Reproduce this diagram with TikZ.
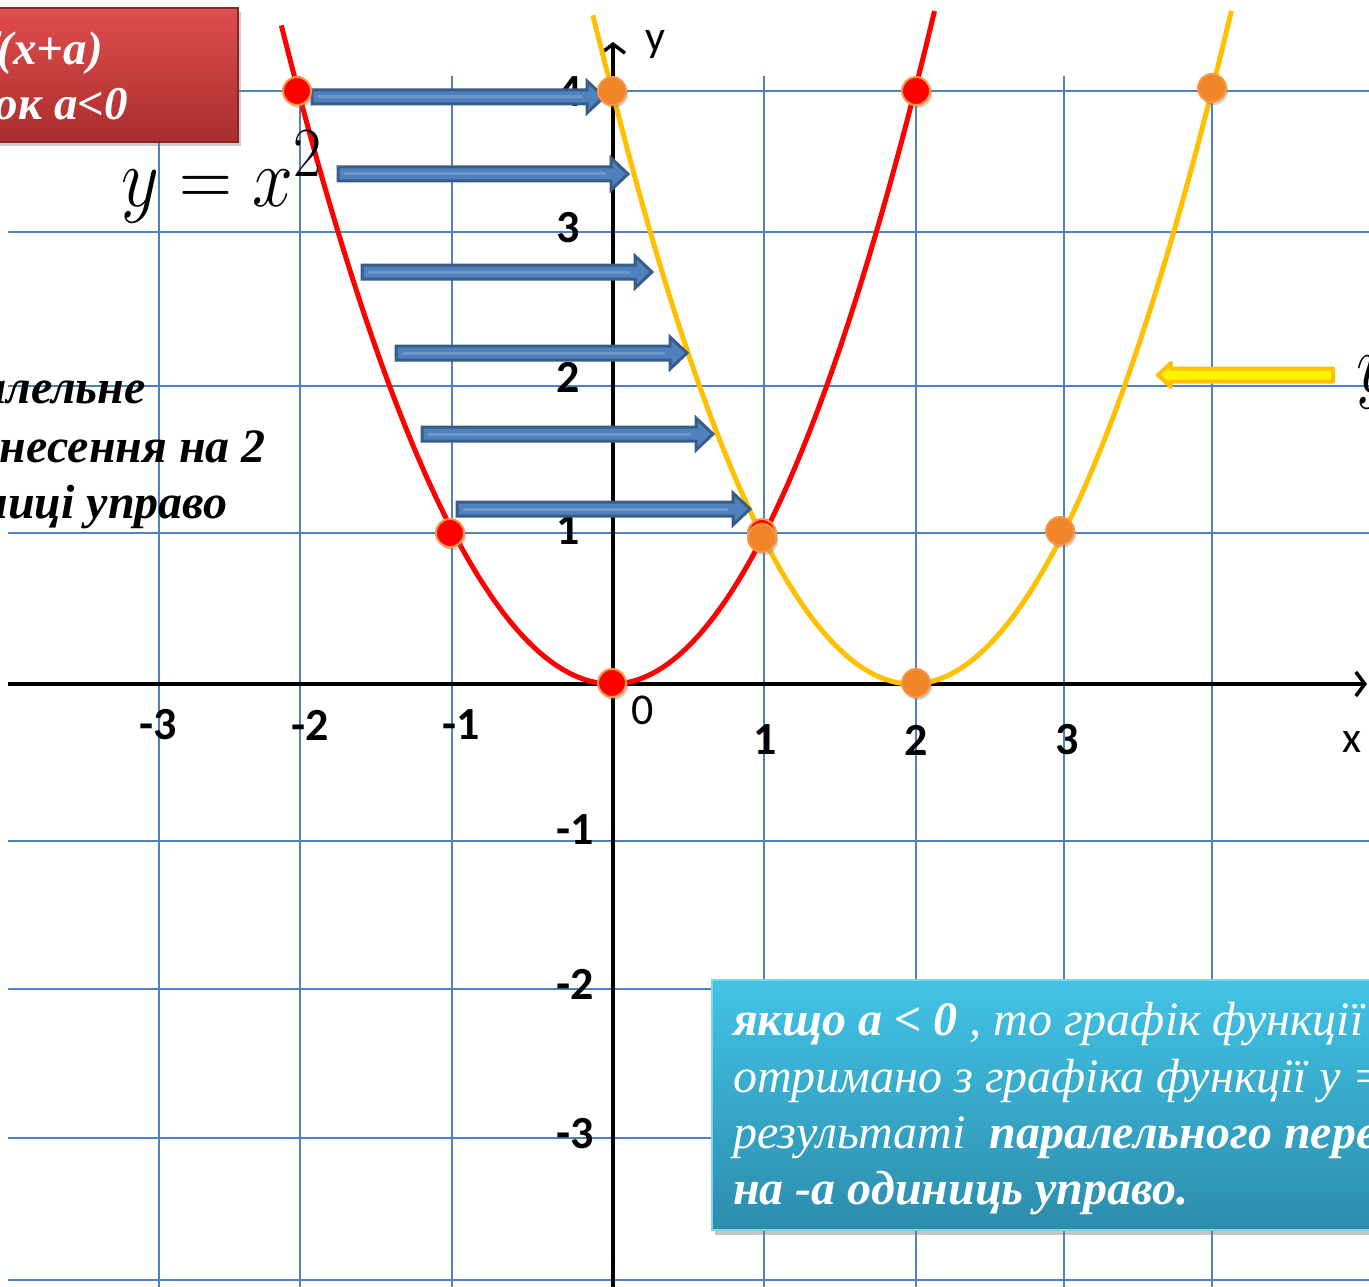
\documentclass[tikz,border=0pt]{standalone}
\usepackage{fontspec}
\setmainfont{Liberation Serif}
\newfontfamily\calibri{Carlito}
\usetikzlibrary{arrows.meta,shadows}
\definecolor{gridblue}{RGB}{79,129,189}
\definecolor{arrfill}{RGB}{79,129,189}
\definecolor{arrdraw}{RGB}{56,93,138}
\definecolor{parred}{RGB}{255,0,0}
\definecolor{paryel}{RGB}{255,192,0}
\definecolor{dotorange}{RGB}{240,134,40}
\definecolor{dotedge}{RGB}{247,150,70}
\definecolor{boxtop}{RGB}{66,196,230}
\definecolor{boxbot}{RGB}{44,140,172}
\definecolor{redtop}{RGB}{222,78,76}
\definecolor{redbot}{RGB}{170,46,46}
\tikzset{
  gridline/.style={draw=gridblue,line width=2},
  axisline/.style={draw=black,line width=4,-{Straight Barb[length=9pt,width=24pt,line width=3.5pt]}},
  ticklab/.style={font=\calibri\bfseries\fontsize{46}{46}\selectfont,inner sep=0},
  axlab/.style={font=\calibri\fontsize{44}{44}\selectfont,inner sep=0},
  redcurve/.style={draw=parred,line width=5},
  yelcurve/.style={draw=paryel,line width=5},
  reddot/.style={circle,fill=parred,draw=dotedge,line width=2,minimum size=28,inner sep=0,
    drop shadow={shadow xshift=2pt,shadow yshift=-3pt,opacity=0.35}},
  orgdot/.style={circle,fill=dotorange,draw=dotedge,line width=2,minimum size=28,inner sep=0,
    drop shadow={shadow xshift=2pt,shadow yshift=-3pt,opacity=0.35}},
  blockarrow/.style={fill=arrfill,draw=arrdraw,line width=3,line join=miter},
  yelarrow/.style={fill=yellow,draw=paryel,line width=4,line join=round},
  bigtext/.style={font=\bfseries\itshape\fontsize{48}{56}\selectfont,inner sep=0},
  boxtext/.style={font=\itshape\fontsize{48}{56}\selectfont,text=white,inner sep=0},
  redtext/.style={font=\bfseries\itshape\fontsize{47}{56}\selectfont,text=white,inner sep=0},
  formula/.style={anchor=base west,inner sep=0,xscale=2.95,yscale=3.4},
}
\newcommand{\rblockarrow}[4]{%
  \coordinate (#1-tail) at (#2,#4);
  \coordinate (#1-tip) at (#3,#4);
  \draw[blockarrow] (#2,#4-7) -- (#3-17,#4-7) -- (#3-17,#4-16) -- (#1-tip)
     -- (#3-17,#4+16) -- (#3-17,#4+7) -- (#2,#4+7) -- cycle;
  \draw[arrfill!70!white,line width=3,opacity=0.6] (#2+6,#4) -- (#3-22,#4);
}
\begin{document}
\begin{tikzpicture}[x=1pt,y=-1pt]
\path[use as bounding box] (0,0) rectangle (1369,1287);
\clip (0,0) rectangle (1369,1287);
\fill[white] (0,0) rectangle (1369,1287);
% grid
\foreach \gx in {159,300,452,764,916,1064,1212}
  \draw[gridline] (\gx,76) -- (\gx,1287);
\foreach \gy in {91,232,386,533,841,989,1138,1280}
  \draw[gridline] (8,\gy) -- (1369,\gy);
% axes
\coordinate (xstart) at (8,684);
\coordinate (xend) at (1367,684);
\coordinate (ystart) at (613,1287);
\coordinate (yend) at (613,42);
\draw[axisline] (xstart) -- (xend);
\draw[axisline] (ystart) -- (yend);
% axis labels
\node[axlab] (lx) at (1352,742) {x};
\node[axlab] (ly) at (655,45) {y};
\node[axlab] (l0) at (643,710) {0};
\node[ticklab] (tm3) at (158,725) {-3};
\node[ticklab] (tm2) at (310,725) {-2};
\node[ticklab] (tm1) at (461,725) {-1};
\node[ticklab] (tp1) at (765,740) {1};
\node[ticklab] (tp2) at (916,740) {2};
\node[ticklab] (tp3) at (1067,740) {3};
\node[ticklab] (ty4) at (570,92) {4};
\node[ticklab] (ty3) at (568,228) {3};
\node[ticklab] (ty2) at (568,377) {2};
\node[ticklab] (ty1) at (568,530) {1};
\node[ticklab] (tym1) at (575,830) {-1};
\node[ticklab] (tym2) at (575,984) {-2};
\node[ticklab] (tym3) at (575,1134) {-3};
% curves
\draw[redcurve] plot[domain=-2.106:0,samples=80,smooth] ({612+157*\x},{684-148.5*\x*\x})
   -- plot[domain=0:2.13,samples=80,smooth] ({612+151.5*\x},{684-148.5*\x*\x});
\draw[yelcurve] plot[domain=-0.122:0,samples=5,smooth] ({612+157*\x},{684-148.5*(\x-2)*(\x-2)})
   -- plot[domain=0:4.13,samples=120,smooth] ({612+150*\x},{684-148.5*(\x-2)*(\x-2)});
% blue arrows
\rblockarrow{a1}{312}{604}{97}
\rblockarrow{a2}{338}{628}{174}
\rblockarrow{a3}{362}{652}{272}
\rblockarrow{a4}{396}{687}{353}
\rblockarrow{a5}{422}{713}{434}
\rblockarrow{a6}{457}{750}{509}
% yellow arrow
\coordinate (ya-tail) at (1333,375);
\coordinate (ya-tip) at (1158,375);
\draw[yelarrow] (1333,368.5) -- (1171,368.5) -- (1171,363) -- (ya-tip) -- (1171,387) -- (1171,381.5) -- (1333,381.5) -- cycle;
% dots
\node[reddot] (r1) at (297,91) {};
\node[reddot] (r2) at (450,533) {};
\node[reddot] (r3) at (612,683) {};
\node[reddot] (r4) at (762,533) {};
\node[reddot] (r5) at (916,91) {};
\node[orgdot] (o1) at (612,91) {};
\node[orgdot] (o2) at (762,538) {};
\node[orgdot] (o3) at (916,683) {};
\node[orgdot] (o4) at (1060,531) {};
\node[orgdot] (o5) at (1212,88) {};
% formula labels
\node[formula] (f1) at (121,207) {\Huge $y=x^{2}$};
\node[formula] (f2) at (1356,392) {\Huge $y=(x-2)^{2}$};
% left text
\node[bigtext,anchor=base east] (t1) at (146,403) {паралельне};
\node[bigtext,anchor=base east] (t2) at (266,462) {перенесення на 2};
\node[bigtext,anchor=base east] (t3) at (228,518) {одиниці управо};
% red box
\path[top color=redtop,bottom color=redbot,draw=redbot!80!black,line width=1.5,
   drop shadow={shadow xshift=3pt,shadow yshift=-4pt,opacity=0.4}] (-20,8) rectangle (238,142);
\node[redtext,anchor=base east] (rb1) at (103,65) {y=f(x+a)};
\node[redtext,anchor=base east] (rb2) at (128,120) {випадок a<0};
% blue box
\path[top color=boxtop,bottom color=boxbot,draw=boxtop!70!white,line width=2,
   drop shadow={shadow xshift=3pt,shadow yshift=-5pt,opacity=0.45}] (712,980) rectangle (1400,1230);
\node[boxtext,anchor=base west] (b1) at (733,1035) {\textbf{якщо a < 0} , то графік функції y = f(x+a)};
\node[boxtext,anchor=base west] (b2) at (733,1092) {отримано з графіка функції y = f(x) в};
\node[boxtext,anchor=base west] (b3) at (733,1148) {результаті\ \ \textbf{паралельного перенесення}};
\node[boxtext,anchor=base west] (b4) at (733,1204) {\textbf{на -а одиниць управо.}};
\end{tikzpicture}
\end{document}
